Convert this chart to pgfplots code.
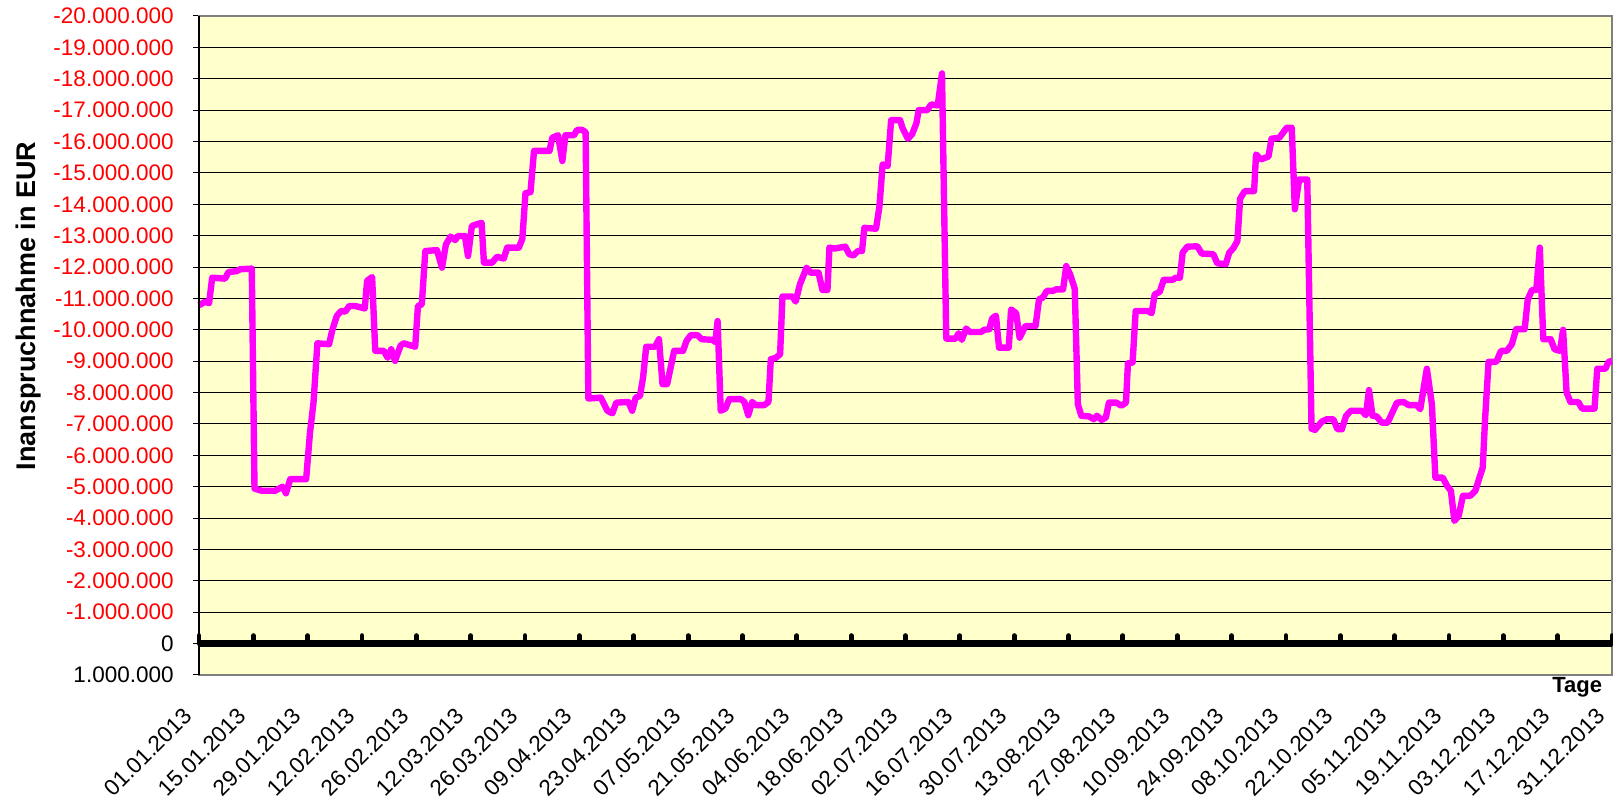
\documentclass[border=0pt]{standalone}
\usepackage{pgfplots}
\pgfplotsset{compat=1.18}
\usepackage{fontspec}
\setmainfont{Liberation Sans}
\definecolor{bgyellow}{RGB}{255,255,204}
\definecolor{lineMag}{RGB}{255,0,255}
\definecolor{frameGray}{RGB}{128,128,128}

\pgfplotstableread{
day val
0 -10.78
1.5 -10.89
2.6 -10.85
3.4 -11.66
6.7 -11.63
7.6 -11.84
9.7 -11.87
10.6 -11.93
13.6 -11.95
14.3 -4.94
16.2 -4.87
19.6 -4.87
21.5 -5.00
22.4 -4.79
23.5 -5.24
27.6 -5.24
28.6 -6.73
29.5 -7.68
30.5 -9.57
33.5 -9.54
34.4 -10.02
35.5 -10.44
36.6 -10.60
37.7 -10.58
38.7 -10.76
40.2 -10.76
42.7 -10.68
43.3 -11.56
44.6 -11.68
45.4 -9.33
47.6 -9.33
48.6 -9.11
49.5 -9.38
50.5 -9.01
51.9 -9.49
52.7 -9.57
55.7 -9.46
56.4 -10.76
57.4 -10.81
58.3 -12.51
61.3 -12.54
62.6 -11.98
63.6 -12.72
64.8 -12.97
66.0 -12.86
66.7 -12.99
68.5 -12.99
69.3 -12.35
70.3 -13.31
72.8 -13.41
73.4 -12.14
75.5 -12.14
76.8 -12.33
78.5 -12.27
79.4 -12.62
82.4 -12.62
83.3 -12.90
84.1 -14.35
85.4 -14.39
86.3 -15.70
90.3 -15.70
91.0 -16.12
92.5 -16.20
93.6 -15.38
94.4 -16.20
96.6 -16.20
97.4 -16.37
98.7 -16.37
99.6 -16.30
100.3 -7.81
103.5 -7.84
105.2 -7.42
106.5 -7.34
107.5 -7.68
110.6 -7.70
111.6 -7.42
112.5 -7.84
113.6 -7.89
114.4 -8.48
115.2 -9.46
117.5 -9.46
118.5 -9.70
119.4 -8.27
120.6 -8.27
122.4 -9.33
124.7 -9.33
125.6 -9.65
126.7 -9.83
128.4 -9.83
129.5 -9.70
132.3 -9.68
133.0 -9.61
133.6 -10.28
134.4 -7.42
135.6 -7.49
136.6 -7.79
139.6 -7.79
140.5 -7.70
141.5 -7.28
142.5 -7.70
143.4 -7.60
145.6 -7.60
146.7 -7.70
147.3 -9.06
148.6 -9.11
149.7 -9.22
150.3 -11.06
152.9 -11.06
153.7 -10.90
154.8 -11.45
156.5 -11.98
157.6 -11.82
159.6 -11.82
160.6 -11.27
161.9 -11.27
162.4 -12.62
163.7 -12.59
166.5 -12.65
167.5 -12.41
168.6 -12.37
169.7 -12.51
170.8 -12.51
171.4 -13.25
174.4 -13.22
175.3 -13.94
176.1 -15.27
177.4 -15.22
178.3 -16.68
180.6 -16.68
181.3 -16.41
182.6 -16.09
183.7 -16.23
184.8 -16.58
185.4 -17.00
187.6 -17.00
188.6 -17.18
190.3 -17.15
191.4 -18.17
192.5 -9.72
194.9 -9.72
195.7 -9.89
196.5 -9.68
197.6 -10.04
198.6 -9.93
201.4 -9.93
202.3 -10.00
203.6 -10.02
204.3 -10.36
205.3 -10.45
206.1 -9.43
208.6 -9.43
209.2 -10.65
210.5 -10.53
211.4 -9.75
212.9 -10.12
215.5 -10.12
216.4 -10.97
217.4 -11.03
218.4 -11.24
220.0 -11.24
220.8 -11.29
222.6 -11.29
223.4 -12.03
224.4 -11.77
225.6 -11.31
226.4 -7.63
227.3 -7.26
229.3 -7.24
230.5 -7.15
231.3 -7.26
232.5 -7.13
233.6 -7.20
234.4 -7.68
236.3 -7.68
237.6 -7.58
238.8 -7.68
239.3 -8.93
240.5 -8.96
241.3 -10.60
244.5 -10.60
245.4 -10.53
246.2 -11.13
247.5 -11.21
248.5 -11.59
250.8 -11.59
251.6 -11.66
252.7 -11.66
253.4 -12.46
254.6 -12.65
257.2 -12.66
258.3 -12.43
261.3 -12.41
262.3 -12.12
264.5 -12.09
265.4 -12.46
266.4 -12.59
267.5 -12.83
268.2 -14.18
269.4 -14.42
271.8 -14.42
272.3 -15.59
273.5 -15.43
275.5 -15.52
276.3 -16.09
278.3 -16.12
280.2 -16.44
281.5 -16.44
282.3 -13.84
283.4 -14.79
285.5 -14.79
286.6 -6.85
287.5 -6.81
289.2 -7.07
290.5 -7.15
292.2 -7.15
293.3 -6.83
294.4 -6.83
295.5 -7.26
296.7 -7.42
299.5 -7.42
300.6 -7.28
301.4 -8.08
302.3 -7.26
303.4 -7.24
304.7 -7.04
306.2 -7.04
308.6 -7.68
310.3 -7.70
311.6 -7.60
313.7 -7.60
314.6 -7.47
316.3 -8.76
317.6 -7.63
318.5 -5.29
320.4 -5.29
321.5 -5.03
322.5 -4.87
323.4 -3.91
324.5 -4.07
325.6 -4.71
327.5 -4.71
328.8 -4.87
329.6 -5.19
330.7 -5.61
331.3 -7.15
332.2 -8.98
334.2 -8.98
335.4 -9.33
336.9 -9.33
338.2 -9.54
339.3 -10.02
341.5 -10.02
342.3 -10.97
343.4 -11.27
344.5 -11.27
345.4 -12.62
346.3 -9.70
348.2 -9.70
349.2 -9.38
350.6 -9.33
351.4 -10.00
352.3 -8.00
353.3 -7.70
355.3 -7.70
356.3 -7.49
359.5 -7.49
360.2 -8.76
362.3 -8.76
363.1 -8.98
364 -9.01
}\credit

\pgfplotstableread{
day val
0 0
14 0
28 0
42 0
56 0
70 0
84 0
98 0
112 0
126 0
140 0
154 0
168 0
182 0
196 0
210 0
224 0
238 0
252 0
266 0
280 0
294 0
308 0
322 0
336 0
350 0
364 0
}\zeroline

\begin{document}
\begin{tikzpicture}
\path[use as bounding box] (-99.5pt,-63pt) rectangle (707pt,337.5pt);
\begin{axis}[
  at={(0,0)}, anchor=south west,
  scale only axis, width=706.5pt, height=329.5pt,
  xmin=0, xmax=364, ymin=-20, ymax=1, y dir=reverse,
  axis background/.style={fill=bgyellow},
  axis line style={draw=frameGray, line width=0.8pt},
  font=\fontsize{11.25}{13}\selectfont,
  tick align=outside, major tick length=3pt,
  ytick pos=left, xtick pos=left, xticklabel pos=left,
  xtick={0,14,...,364},
  xticklabels={01.01.2013,15.01.2013,29.01.2013,12.02.2013,26.02.2013,12.03.2013,26.03.2013,09.04.2013,23.04.2013,07.05.2013,21.05.2013,04.06.2013,18.06.2013,02.07.2013,16.07.2013,30.07.2013,13.08.2013,27.08.2013,10.09.2013,24.09.2013,08.10.2013,22.10.2013,05.11.2013,19.11.2013,03.12.2013,17.12.2013,31.12.2013},
  xtick style={draw=none},
  xticklabel style={xshift=-5.5pt, yshift=-15.6pt, rotate=45, anchor=east, inner sep=0pt},
  ytick={-20,-19,...,1},
  yticklabels={\textcolor{red}{-20.000.000},\textcolor{red}{-19.000.000},\textcolor{red}{-18.000.000},\textcolor{red}{-17.000.000},\textcolor{red}{-16.000.000},\textcolor{red}{-15.000.000},\textcolor{red}{-14.000.000},\textcolor{red}{-13.000.000},\textcolor{red}{-12.000.000},\textcolor{red}{-11.000.000},\textcolor{red}{-10.000.000},\textcolor{red}{-9.000.000},\textcolor{red}{-8.000.000},\textcolor{red}{-7.000.000},\textcolor{red}{-6.000.000},\textcolor{red}{-5.000.000},\textcolor{red}{-4.000.000},\textcolor{red}{-3.000.000},\textcolor{red}{-2.000.000},\textcolor{red}{-1.000.000},0,1.000.000},
  ytick style={draw=black, line width=0.5pt},
  yticklabel style={anchor=east, inner sep=0pt, xshift=-9.5pt},
  ymajorgrids, major grid style={draw=black, line width=0.5pt},
  ylabel={\bfseries Inanspruchnahme in EUR},
  ylabel style={at={(rel axis cs:0,0.56)}, anchor=center, yshift=85pt, font=\fontsize{13.5}{15}\selectfont},
  xlabel={\bfseries Tage},
  xlabel style={at={(rel axis cs:1,0)}, anchor=north east, xshift=-1.4pt, yshift=2.5pt, font=\fontsize{11}{12}\selectfont},
  clip=false,
]
\addplot[black, line width=3.5pt, mark=|, mark size=2pt, mark options={line width=2.4pt, line cap=round, yshift=2pt}] table[x=day,y=val] {\zeroline};
\addplot[lineMag, line width=3.2pt, line join=round] table[x=day,y=val] {\credit};
\draw[black, line width=1pt] (rel axis cs:0,0) -- (rel axis cs:0,1);
\end{axis}
\end{tikzpicture}
\end{document}
